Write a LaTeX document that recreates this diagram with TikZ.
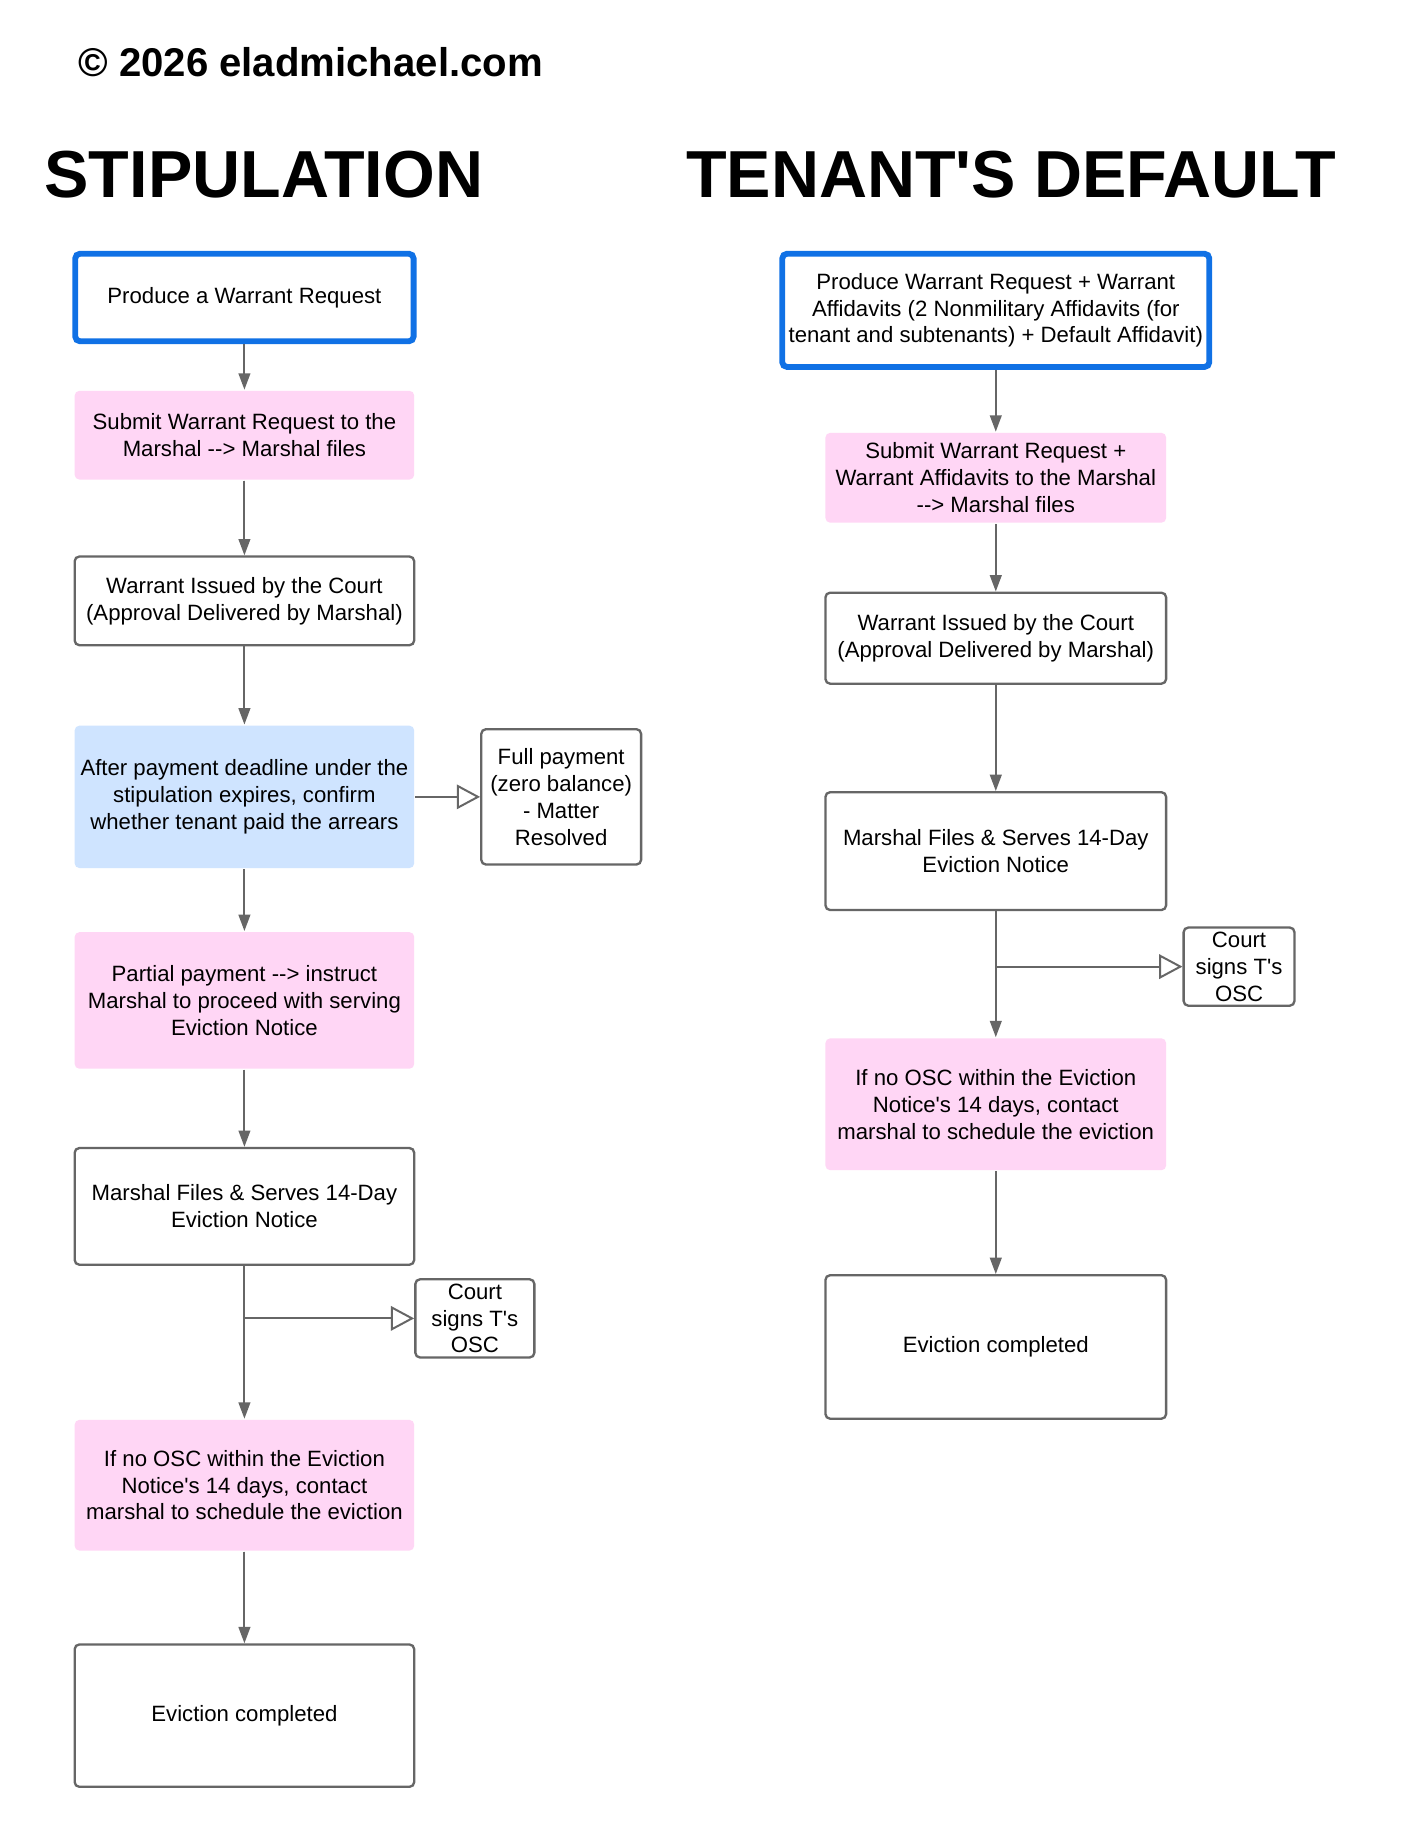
\documentclass[tikz,border=0pt]{standalone}
\usepackage{fontspec}
\setmainfont{Liberation Sans}[Ligatures=TeXOff]
\usepackage{tikz}
\usetikzlibrary{arrows.meta, positioning, calc}
\definecolor{startblue}{HTML}{1071E5}
\definecolor{notepink}{HTML}{FFD6F5}
\definecolor{checkblue}{HTML}{CFE4FF}
\definecolor{linegray}{HTML}{666666}
\tikzset{
  stepbox/.style={rectangle, rounded corners=4pt, draw=linegray, line width=2pt, fill=white,
    font=\fontsize{19}{23}\selectfont, minimum width=291pt, align=center, inner sep=2pt},
  stepbox/start/.style={stepbox, draw=startblue, line width=5pt},
  stepbox/pink/.style={stepbox, draw=none, fill=notepink},
  stepbox/check/.style={stepbox, draw=none, fill=checkblue},
  sidebox/.style={stepbox, minimum width=0pt, inner sep=1pt},
  ttl/.style={font=\bfseries\fontsize{57}{60}\selectfont, anchor=base west, inner sep=0pt},
  ar/.style={-{Triangle[length=14pt,width=10pt]}, draw=linegray, fill=linegray, line width=1.7pt},
  arside/.style={-{Triangle[open,length=20pt,width=21pt,fill=white]}, draw=linegray, line width=1.7pt},
}

\begin{document}
\begin{tikzpicture}[x=1pt,y=-1pt]
\path[fill=white, use as bounding box] (0,0) rectangle (1200,1565.1);

\node[ttl, font=\bfseries\fontsize{34.4}{38}\selectfont] (COPY) at (67,66) {© 2026 eladmichael.com};
\node[ttl] (TSTIP) at (38,169) {STIPULATION};
\node[ttl] (TDEF) at (588,169) {TENANT'S DEFAULT};

% stipulation column
\node[stepbox/start, minimum width=290pt, minimum height=75pt] (L1) at (209.5,255) {Produce a Warrant Request};
\node[stepbox/pink, minimum height=76pt]  (L2) at (209.5,373) {Submit Warrant Request to the\\Marshal --> Marshal files};
\node[stepbox, minimum height=76pt]       (L3) at (209.5,515) {Warrant Issued by the Court\\(Approval Delivered by Marshal)};
\node[stepbox/check, minimum height=122pt] (L4) at (209.5,683) {After payment deadline under the\\stipulation expires, confirm\\whether tenant paid the arrears};
\node[sidebox, minimum width=137pt, minimum height=116pt] (FULL) at (481,683) {Full payment\\(zero balance)\\- Matter\\Resolved};
\node[stepbox/pink, minimum height=117pt] (L5) at (209.5,857.5) {Partial payment --> instruct\\Marshal to proceed with serving\\Eviction Notice};
\node[stepbox, minimum height=100pt]      (L6) at (209.5,1034) {Marshal Files \& Serves 14-Day\\Eviction Notice};
\node[sidebox, minimum width=102pt, minimum height=67pt] (OSCL) at (407,1130) {Court\\signs T's\\OSC};
\node[stepbox/pink, minimum height=112pt] (L7) at (209.5,1273) {If no OSC within the Eviction\\Notice's 14 days, contact\\marshal to schedule the eviction};
\node[stepbox, minimum height=122pt]      (L8) at (209.5,1470.5) {Eviction completed};

% default column
\node[stepbox/start, minimum width=366pt, minimum height=97pt] (R1) at (853.5,266) {Produce Warrant Request + Warrant\\Affidavits (2 Nonmilitary Affidavits (for\\tenant and subtenants) + Default Affidavit)};
\node[stepbox/pink, minimum width=292pt, minimum height=77pt] (R2) at (853.5,409.5) {Submit Warrant Request +\\Warrant Affidavits to the Marshal\\--> Marshal files};
\node[stepbox, minimum width=292pt, minimum height=78pt]  (R3) at (853.5,547) {Warrant Issued by the Court\\(Approval Delivered by Marshal)};
\node[stepbox, minimum width=292pt, minimum height=101pt] (R4) at (853.5,729.5) {Marshal Files \& Serves 14-Day\\Eviction Notice};
\node[sidebox, minimum width=95pt, minimum height=67pt] (OSCR) at (1062,828.5) {Court\\signs T's\\OSC};
\node[stepbox/pink, minimum width=292pt, minimum height=113pt] (R5) at (853.5,946.5) {If no OSC within the Eviction\\Notice's 14 days, contact\\marshal to schedule the eviction};
\node[stepbox, minimum width=292pt, minimum height=123pt] (R6) at (853.5,1154.5) {Eviction completed};

\coordinate (JL) at (L6.south |- OSCL.west);
\coordinate (JR) at (R4.south |- OSCR.west);

\draw[ar] (L1.south) -- (L2.north);
\draw[ar] (L2.south) -- (L3.north);
\draw[ar] (L3.south) -- (L4.north);
\draw[arside] (L4.east) -- (FULL.west);
\draw[ar] (L4.south) -- (L5.north);
\draw[ar] (L5.south) -- (L6.north);
\draw[ar] (L6.south) -- (L7.north);
\draw[arside] (JL) -- (OSCL.west);
\draw[ar] (L7.south) -- (L8.north);

\draw[ar] (R1.south) -- (R2.north);
\draw[ar] (R2.south) -- (R3.north);
\draw[ar] (R3.south) -- (R4.north);
\draw[ar] (R4.south) -- (R5.north);
\draw[arside] (JR) -- (OSCR.west);
\draw[ar] (R5.south) -- (R6.north);
\end{tikzpicture}
\end{document}
